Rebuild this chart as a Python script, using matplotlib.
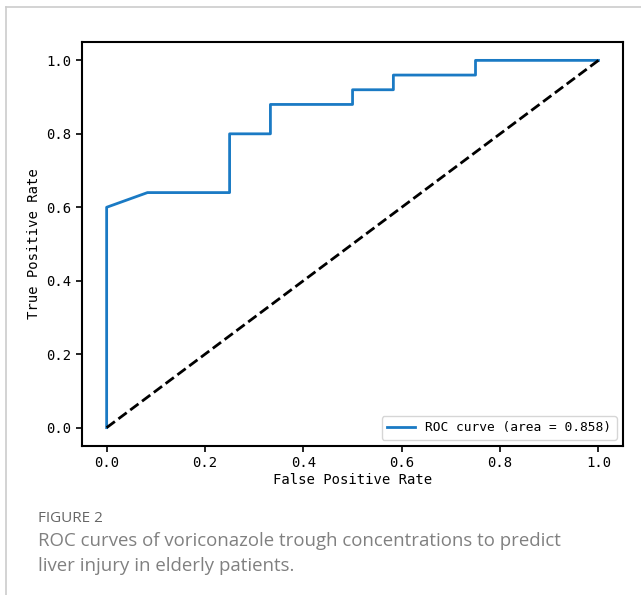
import matplotlib
matplotlib.use('Agg')
import matplotlib.pyplot as plt
from matplotlib.lines import Line2D

# ROC points
fpr = [0.0, 0.0, 0.083, 0.25, 0.25, 0.333, 0.333, 0.5, 0.5, 0.583, 0.583, 0.75, 0.75, 1.0]
tpr = [0.0, 0.6, 0.64, 0.64, 0.8, 0.8, 0.88, 0.88, 0.92, 0.92, 0.96, 0.96, 1.0, 1.0]
auc_value = 0.858
ticks = [0.0, 0.2, 0.4, 0.6, 0.8, 1.0]
tick_labels = ['0.0', '0.2', '0.4', '0.6', '0.8', '1.0']

mono = 'DejaVu Sans Mono'

fig = plt.figure(figsize=(6.41, 5.95), dpi=100)

# panel frame lines (top and left)
fig.add_artist(Line2D([6 / 641, 1.0], [1 - 7 / 595, 1 - 7 / 595], color='#cccccc', lw=1.2))
fig.add_artist(Line2D([6 / 641, 6 / 641], [0.0, 1 - 7 / 595], color='#cccccc', lw=1.2))

ax = fig.add_axes([0.128, 0.2504, 0.844, 0.679])
ax.plot(fpr, tpr, color='#1a7ac4', lw=2, label=f'ROC curve (area = {auc_value:.3f})')
ax.plot([0, 1], [0, 1], color='black', lw=2, linestyle='--')

ax.set_xticks(ticks)
ax.set_xticklabels(tick_labels, fontfamily=mono, fontsize=10)
ax.set_yticks(ticks)
ax.set_yticklabels(tick_labels, fontfamily=mono, fontsize=10)
ax.set_xlabel('False Positive Rate', fontfamily=mono, fontsize=10, labelpad=2)
ax.set_ylabel('True Positive Rate', fontfamily=mono, fontsize=10)
for s in ax.spines.values():
    s.set_linewidth(1.5)
ax.tick_params(width=1.2, length=4)

leg = ax.legend(loc='lower right', prop={'family': mono, 'size': 9.3}, handlelength=2.2)

fig.text(38 / 641, 1 - 518 / 595, 'FIGURE 2', fontsize=11, color='#666666',
         fontfamily='Open Sans', va='center')
fig.text(38 / 641, 1 - 541 / 595,
         'ROC curves of voriconazole trough concentrations to predict',
         fontsize=13.4, color='#808080', fontfamily='Open Sans', va='center')
fig.text(38 / 641, 1 - 566 / 595, 'liver injury in elderly patients.',
         fontsize=13.4, color='#808080', fontfamily='Open Sans', va='center')

fig.savefig('out.png', dpi=100)
